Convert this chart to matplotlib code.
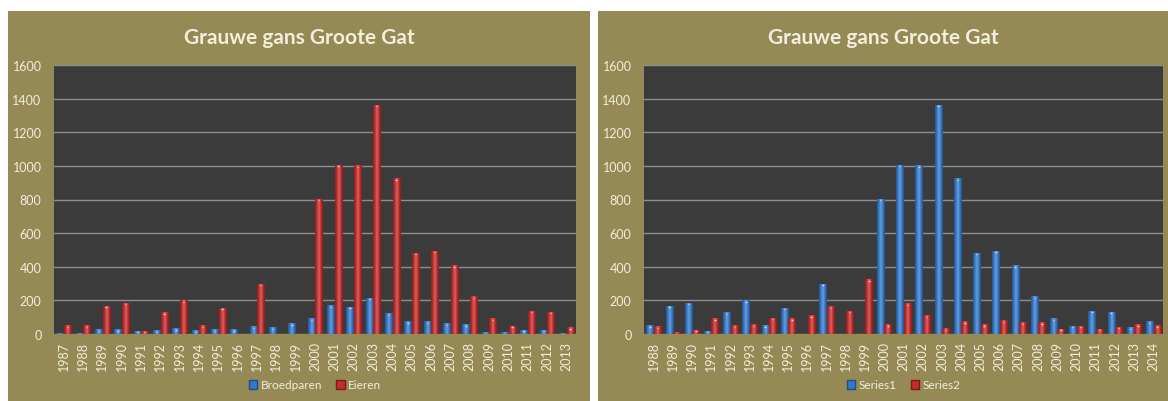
import matplotlib
matplotlib.use("Agg")
import matplotlib.pyplot as plt
import numpy as np
from matplotlib.colors import LinearSegmentedColormap
from matplotlib.patches import Rectangle

TITLE = "Grauwe gans Groote Gat"

# left chart: breeding pairs and eggs per year
years_left = [str(y) for y in range(1987, 2014)]
broedparen = [5, 5, 26, 26, 16, 20, 30, 20, 26, 26, 44, 36, 60,
              90, 169, 159, 213, 119, 74, 74, 60, 54, 10, 10, 22, 22, 4]
eieren = [50, 50, 166, 183, 16, 125, 199, 50, 153, 0, 296, 0, 0,
          801, 1005, 1000, 1360, 922, 479, 493, 405, 223, 90, 46, 135, 129, 38]

# right chart: unnamed series
years_right = [str(y) for y in range(1988, 2015)]
series1 = [50, 166, 183, 16, 125, 199, 50, 153, 0, 296, 0, 0, 801,
           1005, 1000, 1360, 922, 479, 493, 405, 223, 90, 46, 135, 129, 38, 74]
series2 = [42, 10, 22, 90, 50, 56, 95, 90, 109, 161, 135, 322, 56,
           179, 109, 32, 74, 56, 80, 68, 68, 28, 46, 28, 40, 56, 50]

W, H = 1168, 402
OLIVE = "#958a55"
PLOT_BG = "#3b3b3b"
GRID = "#8e8e8e"
TEXT = "#f2eedc"
BLUE = "#3478c8"
RED = "#c42c2c"
FONT = ["Lato", "DejaVu Sans"]

plt.rcParams["font.family"] = FONT


def shade_cmap(base):
    c = np.array(matplotlib.colors.to_rgb(base))
    dark = c * 0.72
    light = np.clip(c + (1 - c) * 0.3, 0, 1)
    return LinearSegmentedColormap.from_list(
        "cyl", [dark, c, light, c, dark * 0.92])


def shaded_bars(ax, x, values, width, color):
    bars = ax.bar(x, values, width, color=color, zorder=3, label=None)
    cmap = shade_cmap(color)
    grad = np.linspace(0, 1, 32).reshape(1, -1)
    for p in bars.patches:
        h = p.get_height()
        if h <= 0:
            continue
        x0, w = p.get_x(), p.get_width()
        ax.imshow(grad, cmap=cmap, aspect="auto", zorder=4,
                  extent=(x0, x0 + w, 0, h), interpolation="bicubic")
        # light cap on the top of each column
        if h > 15:
            ax.plot([x0 + w * 0.4, x0 + w * 0.6], [h - 6, h - 6],
                    color="white", lw=1.0, alpha=0.7, zorder=5,
                    solid_capstyle="butt")
    return bars


def px_axes(fig, x0, y0, x1, y1):
    return fig.add_axes([x0 / W, 1 - y1 / H, (x1 - x0) / W, (y1 - y0) / H],
                        zorder=2)


def draw_panel(fig, box, plot_box, years, s1, s2, names):
    bx0, by0, bx1, by1 = box
    fig.patches.append(Rectangle((bx0 / W, 1 - by1 / H), (bx1 - bx0) / W,
                                 (by1 - by0) / H, transform=fig.transFigure,
                                 facecolor=OLIVE, edgecolor="none", zorder=-5))
    ax = px_axes(fig, *plot_box)
    ax.set_facecolor(PLOT_BG)
    x = np.arange(len(years))
    bw = 0.37
    shaded_bars(ax, x - bw / 2 - 0.01, s1, bw, BLUE)
    shaded_bars(ax, x + bw / 2 + 0.01, s2, bw, RED)
    ax.set_xlim(-0.5, len(years) - 0.5)
    ax.set_ylim(0, 1600)
    ax.set_yticks(range(0, 1601, 200))
    ax.set_xticks(x)
    ax.set_xticklabels(years, rotation=90)
    ax.tick_params(axis="both", length=0, colors=TEXT, labelsize=9)
    ax.tick_params(axis="y", pad=9)
    ax.tick_params(axis="x", pad=5)
    ax.grid(axis="y", color=GRID, lw=1.0, zorder=1)
    ax.set_axisbelow(True)
    for s in ax.spines.values():
        s.set_visible(False)
    ax.axhline(1600, color=GRID, lw=1.2, zorder=1)

    cx = (bx0 + bx1) / 2
    fig.text(cx / W, 1 - 38 / H, TITLE, ha="center", va="center",
             fontsize=15, fontweight="bold", color=TEXT, zorder=3)

    handles = [Rectangle((0, 0), 1, 1, facecolor=BLUE, edgecolor="#1d4f8f"),
               Rectangle((0, 0), 1, 1, facecolor=RED, edgecolor="#7e1a1a")]
    leg = fig.legend(handles, names, loc="center", ncol=2, frameon=False,
                     bbox_to_anchor=((plot_box[0] + plot_box[2]) / 2 / W,
                                     1 - 386 / H),
                     fontsize=8.5, labelcolor=TEXT, handlelength=0.7,
                     handleheight=0.7, handletextpad=0.3, columnspacing=1.2)
    leg.set_zorder(3)
    return ax


fig = plt.figure(figsize=(W / 100, H / 100), dpi=100)
fig.patch.set_facecolor("white")

draw_panel(fig, (8, 12, 590, 402), (54, 66, 576, 335),
           years_left, broedparen, eieren, ["Broedparen", "Eieren"])
draw_panel(fig, (598, 12, 1168, 402), (644, 66, 1163, 335),
           years_right, series1, series2, ["Series1", "Series2"])

fig.savefig("out.png", dpi=100, facecolor=fig.get_facecolor())
